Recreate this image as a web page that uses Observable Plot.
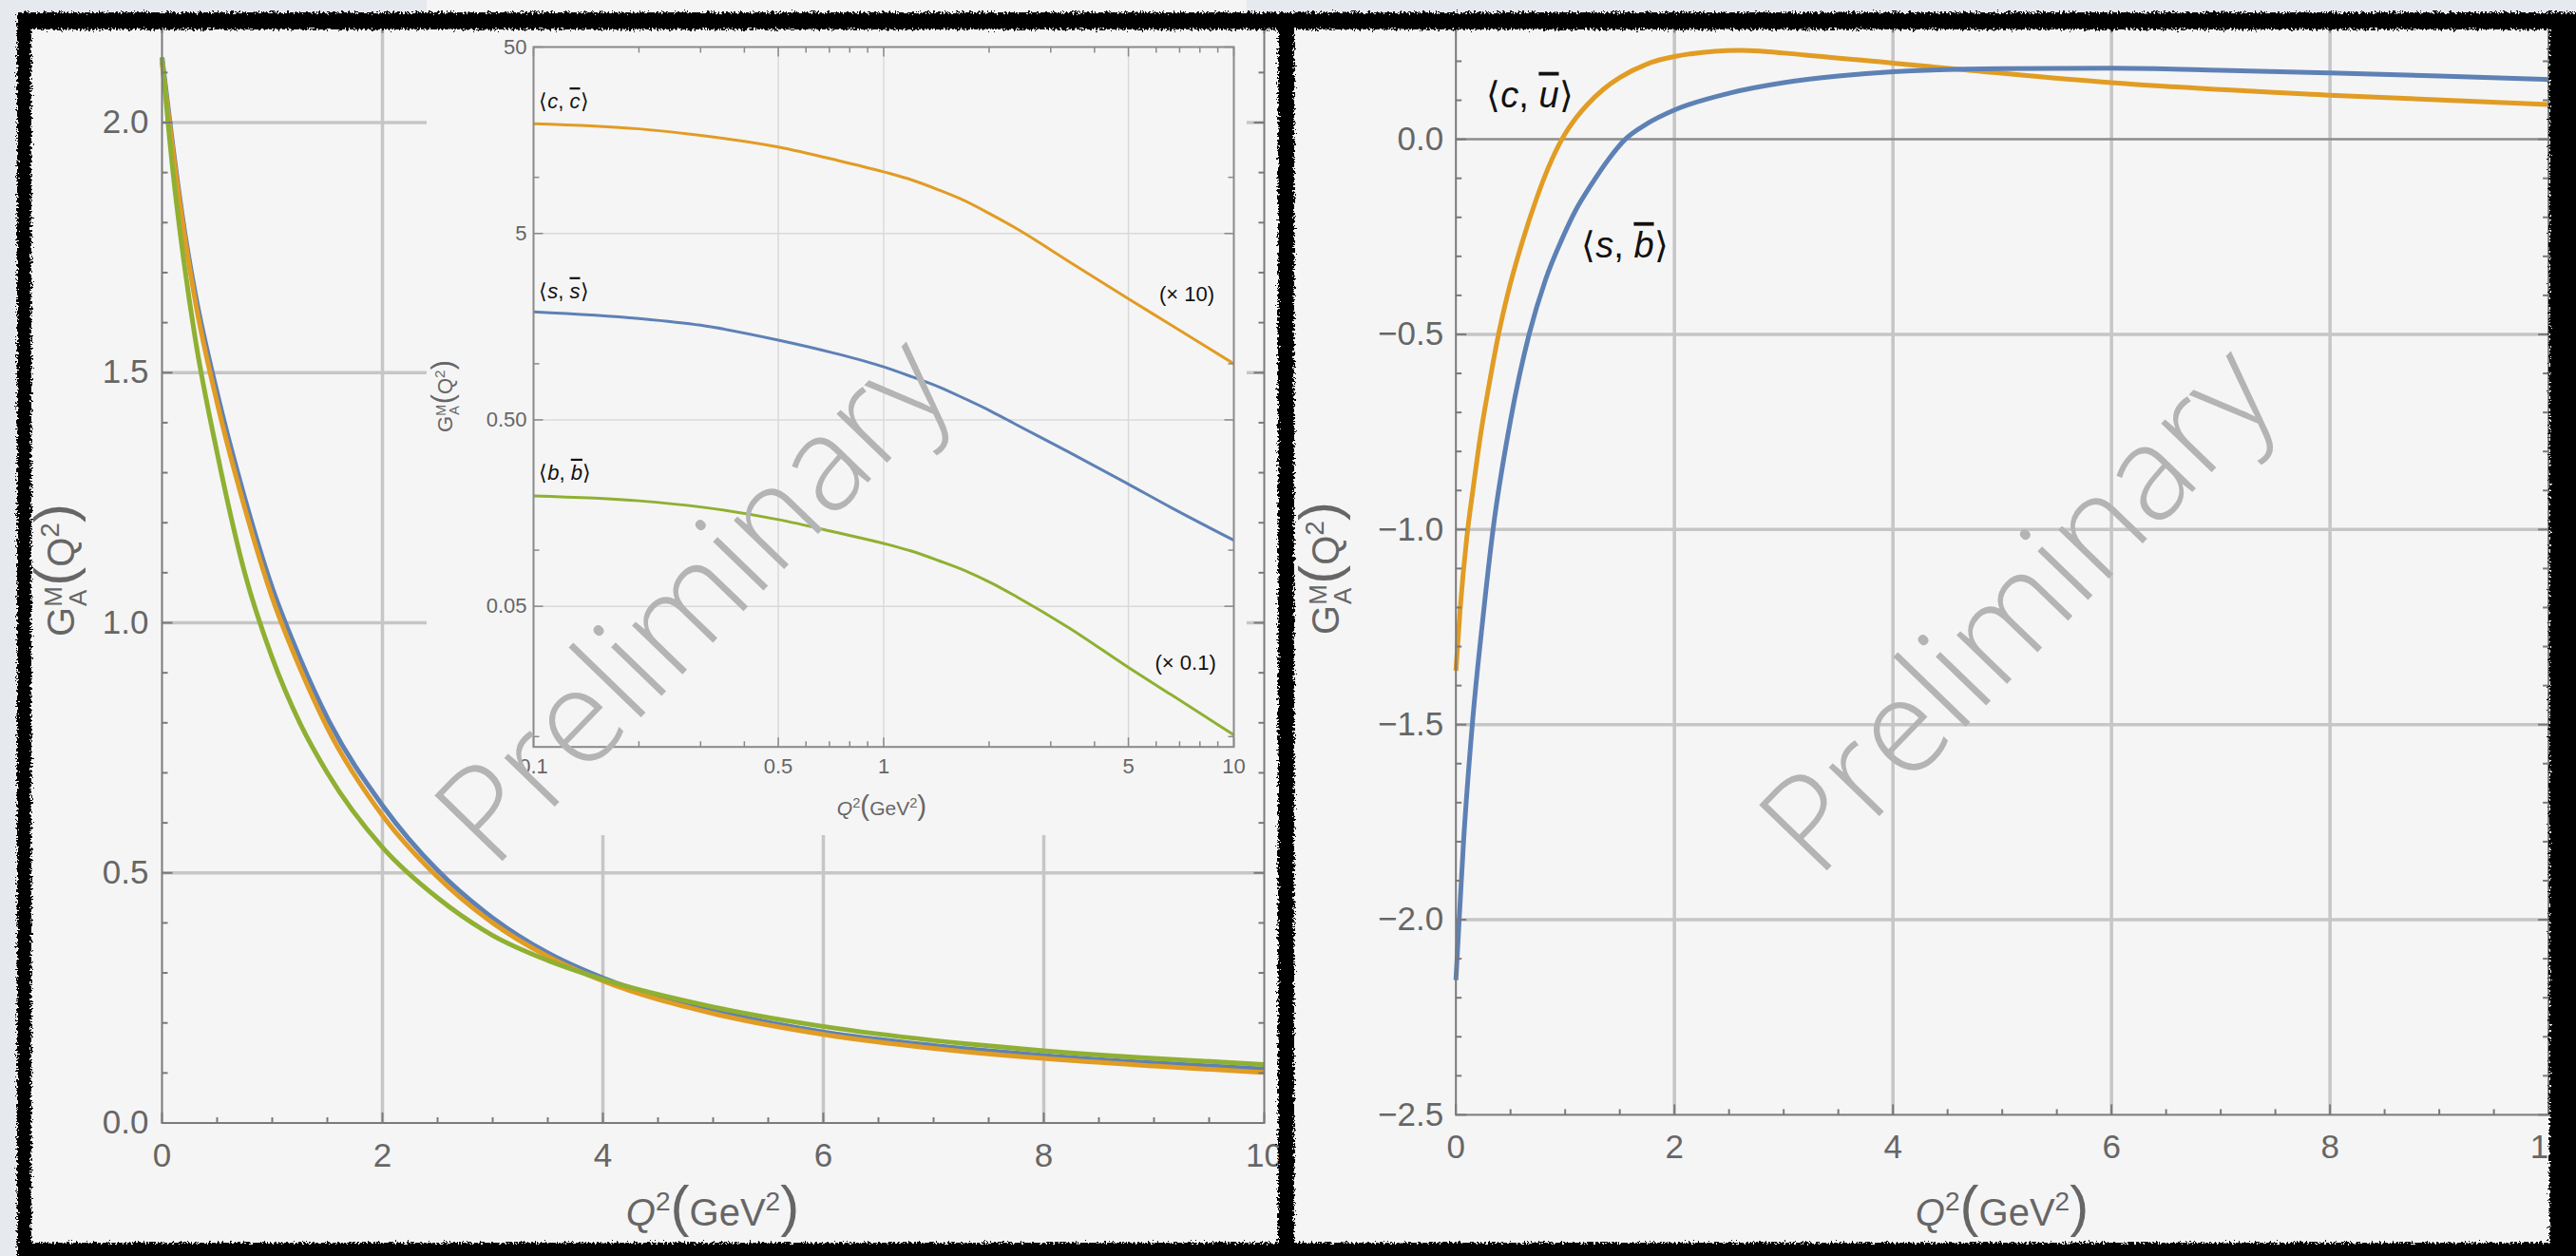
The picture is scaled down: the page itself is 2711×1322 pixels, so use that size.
<!DOCTYPE html>
<html><head><meta charset="utf-8">
<script src="https://cdn.jsdelivr.net/npm/d3@7"></script>
<script src="https://cdn.jsdelivr.net/npm/@observablehq/plot@0.6"></script>
<style>
html,body{margin:0;padding:0;background:#e6e9ed;}
#root{position:relative;width:2711px;height:1322px;overflow:hidden;background:#e6e9ed;}
</style></head><body><div id="root"></div>
<script>
// ---------------- DATA ----------------
// Left main panel: G_A^M(Q^2) for three currents
const mainQ2 = [0,0.1,0.2,0.3,0.5,0.75,1,1.25,1.5,2,2.5,3,3.5,4,5,6,7,8,9,10];
const ssMain = [2.13,1.95,1.79,1.66,1.46,1.25,1.07,0.93,0.81,0.635,0.505,0.41,0.34,0.29,0.225,0.182,0.155,0.135,0.12,0.108];
const ccMain = [2.12,1.94,1.78,1.645,1.44,1.23,1.05,0.91,0.79,0.615,0.492,0.40,0.333,0.284,0.219,0.177,0.149,0.129,0.114,0.101];
const bbMain = [2.13,1.90,1.72,1.57,1.34,1.10,0.93,0.80,0.70,0.551,0.45,0.375,0.325,0.287,0.232,0.193,0.165,0.1445,0.129,0.117];
// Inset (log-log); cc shown x10, bb shown x0.1
const insetQ2 = [0.1,0.2,0.3,0.5,0.73,1,1.2,1.44,1.7,2.03,2.4,3.37,5,6.63,10];
const ccInset = [19.4,18.2,16.8,14.55,12.4,10.7,9.7,8.54,7.5,6.31,5.3,3.55,2.23,1.61,1.0];
const ssInset = [1.90,1.75,1.61,1.34,1.135,0.962,0.853,0.75,0.651,0.555,0.47,0.337,0.226,0.169,0.113];
const bbInset = [0.1954,0.184,0.1705,0.1459,0.1247,0.1087,0.0989,0.0877,0.0779,0.0667,0.0562,0.0385,0.0235,0.01675,0.0102];
// Right panel: transition form factors
const cuQ2 = [0,0.04,0.1,0.16,0.23,0.3,0.39,0.48,0.6,0.74,0.85,0.97,1.1,1.2,1.35,1.5,1.75,2,2.6,3.2,4,4.7,6,8,10];
const cuValues = [-1.362,-1.2,-1.02,-0.89,-0.75,-0.635,-0.5,-0.39,-0.27,-0.15,-0.07,0,0.055,0.088,0.128,0.158,0.193,0.212,0.228,0.216,0.195,0.177,0.145,0.113,0.089];
const sbQ2 = [0,0.03,0.07,0.15,0.25,0.34,0.5,0.67,0.82,0.98,1.1,1.23,1.4,1.55,1.75,2,2.5,3,3.5,4,5,6,7,8,9,10];
const sbValues = [-2.155,-2.0,-1.8,-1.5,-1.22,-1.0,-0.72,-0.5,-0.36,-0.25,-0.18,-0.12,-0.05,0,0.04,0.075,0.118,0.145,0.162,0.173,0.181,0.182,0.177,0.17,0.162,0.153];
// Tick values / labels
const mainXTicks = [0,2,4,6,8,10];
const mainYTicks = [0,0.5,1,1.5,2];
const rightYTicks = [-2.5,-2,-1.5,-1,-0.5,0];
const insetXTicks = [0.1,0.5,1,5,10];
const insetXTickLabels = ["0.1","0.5","1","5","10"];
const insetYTicks = [0.05,0.5,5,50];
const insetYTickLabels = ["0.05","0.50","5","50"];
const insetXMinor = [0.2,0.3,0.4,0.6,0.7,0.8,0.9,2,3,4,6,7,8,9];
const insetYMinor = [0.01,0.1,1,10];
const seriesNames = ["ss","cc","bb"];

// ---------------- STYLE ----------------
const FONT = "'Liberation Sans', Arial, Helvetica, sans-serif";
const BLUE = "#5E81B5", ORANGE = "#E19C24", GREEN = "#8FB032";
const GRID = "#c6c6c6", FRAME = "#7a7a7a", LABEL = "#666666", PANEL = "#f5f5f5";

const root = document.getElementById("root");
function place(el, left, top) {
  el.style.position = "absolute"; el.style.left = left + "px"; el.style.top = top + "px";
  root.appendChild(el);
}
for (const [l, t, w, h] of [[18, 13, 1336, 1320], [1353, 13, 1358, 1320]]) {
  const d = document.createElement("div");
  d.style.cssText = `width:${w}px;height:${h}px;background:${PANEL};`;
  place(d, l, t);
}

const tk = (dx, dy) => ({draw(ctx) { ctx.moveTo(0, 0); ctx.lineTo(dx, dy); }});
function frameTicks(xMaj, xMin, yMaj, yMin, {maj = 11, min = 6, stroke = FRAME, sw = 2} = {}) {
  const o = {stroke, strokeWidth: sw, fill: "none"};
  return [
    Plot.dot(xMaj, {x: d => d, frameAnchor: "bottom", symbol: tk(0, -maj), ...o}),
    Plot.dot(xMin, {x: d => d, frameAnchor: "bottom", symbol: tk(0, -min), ...o}),
    Plot.dot(xMaj, {x: d => d, frameAnchor: "top", symbol: tk(0, maj), ...o}),
    Plot.dot(xMin, {x: d => d, frameAnchor: "top", symbol: tk(0, min), ...o}),
    Plot.dot(yMaj, {y: d => d, frameAnchor: "left", symbol: tk(maj, 0), ...o}),
    Plot.dot(yMin, {y: d => d, frameAnchor: "left", symbol: tk(min, 0), ...o}),
    Plot.dot(yMaj, {y: d => d, frameAnchor: "right", symbol: tk(-maj, 0), ...o}),
    Plot.dot(yMin, {y: d => d, frameAnchor: "right", symbol: tk(-min, 0), ...o})
  ];
}
function richText(parent, x, y, segs, {size = 38, fill = "#111", anchor = "middle", rotate = 0, family = FONT} = {}) {
  const t = parent.append("text")
    .attr("transform", `translate(${x},${y}) rotate(${rotate})`)
    .attr("text-anchor", anchor).attr("font-size", size).attr("fill", fill)
    .attr("font-family", family);
  for (const s of segs) {
    const ts = t.append("tspan").text(s.t);
    if (s.italic) ts.attr("font-style", "italic");
    if (s.scale) ts.attr("font-size", size * s.scale);
    if (s.dy) ts.attr("dy", s.dy);
    if (s.dx) ts.attr("dx", s.dx);
    if (s.over) ts.style("text-decoration", "overline");
    if (s.weight) ts.attr("font-weight", s.weight);
  }
  return t;
}
const minorRange = (a, b, step, skip) => d3.range(a, b + step / 2, step).map(v => +v.toFixed(4)).filter(v => !skip.some(s => Math.abs(s - v) < 1e-6));

// ---------------- LEFT MAIN ----------------
const mainRows = [];
seriesNames.forEach((s, k) => {
  const vals = [ssMain, ccMain, bbMain][k];
  mainQ2.forEach((q, i) => mainRows.push({series: s, q2: q, v: vals[i]}));
});
const mainPlot = Plot.plot({
  width: 1353, height: 1322,
  marginLeft: 170, marginRight: 23, marginTop: 23.2, marginBottom: 140.5,
  style: {background: "transparent", color: LABEL, fontSize: "35px", fontFamily: FONT, overflow: "visible"},
  x: {domain: [0, 10], ticks: mainXTicks, tickFormat: d3.format("d"), tickSize: 0, tickPadding: 21, label: null},
  y: {domain: [0, 2.2], ticks: mainYTicks, tickFormat: d3.format(".1f"), tickSize: 0, tickPadding: 14, label: null},
  color: {domain: seriesNames, range: [BLUE, ORANGE, GREEN]},
  marks: [
    Plot.ruleX([2, 4, 6, 8], {stroke: GRID, strokeWidth: 3.5}),
    Plot.ruleY([0.5, 1, 1.5, 2], {stroke: GRID, strokeWidth: 3.5}),
    Plot.line(mainRows, {x: "q2", y: "v", z: "series", stroke: "series", strokeWidth: 5, curve: "monotone-x", strokeLinecap: "butt"}),
    Plot.frame({stroke: FRAME, strokeWidth: 2}),
    ...frameTicks(mainXTicks, minorRange(0, 10, 0.5, mainXTicks), mainYTicks, minorRange(0, 2.2, 0.1, mainYTicks))
  ]
});
place(mainPlot, 0, 0);

// ---------------- INSET ----------------
const insetRows = [];
seriesNames.forEach((s, k) => {
  const vals = [ssInset, ccInset, bbInset][k];
  insetQ2.forEach((q, i) => insetRows.push({series: s, q2: q, v: vals[i]}));
});
const insetPlot = Plot.plot({
  width: 863, height: 879,
  marginLeft: 112, marginRight: 14, marginTop: 49, marginBottom: 93.3,
  style: {background: PANEL, color: LABEL, fontSize: "22px", fontFamily: FONT, overflow: "visible"},
  x: {type: "log", domain: [0.1, 10], axis: null},
  y: {type: "log", domain: [0.0088, 50], axis: null},
  color: {domain: seriesNames, range: [BLUE, ORANGE, GREEN]},
  marks: [
    Plot.ruleX([0.5, 1, 5], {stroke: "#dadada", strokeWidth: 1.5}),
    Plot.ruleY([0.05, 0.5, 5], {stroke: "#dadada", strokeWidth: 1.5}),
    Plot.line(insetRows, {x: "q2", y: "v", z: "series", stroke: "series", strokeWidth: 3, curve: "monotone-x", strokeLinecap: "butt"}),
    Plot.frame({stroke: "#8a8a8a", strokeWidth: 2}),
    ...frameTicks(insetXTicks, insetXMinor, insetYTicks, insetYMinor, {maj: 10, min: 6, stroke: "#8a8a8a", sw: 1.5}),
    Plot.text(insetXTicks, {x: d => d, text: (d, i) => insetXTickLabels[i], frameAnchor: "bottom", lineAnchor: "top", dy: 12, fill: LABEL, fontSize: 22}),
    Plot.text(insetYTicks, {y: d => d, text: (d, i) => insetYTickLabels[i], frameAnchor: "left", textAnchor: "end", dx: -7, fill: LABEL, fontSize: 22})
  ]
});
place(insetPlot, 449, 0);
{
  const sx = insetPlot.scale("x"), sy = insetPlot.scale("y");
  const g = d3.select(insetPlot);
  const lab = [
    {q: 0.104, v: 25.3, segs: [{t: "⟨"}, {t: "c", italic: 1}, {t: ", "}, {t: "c", italic: 1, over: 1}, {t: "⟩"}]},
    {q: 0.104, v: 2.43, segs: [{t: "⟨"}, {t: "s", italic: 1}, {t: ", "}, {t: "s", italic: 1, over: 1}, {t: "⟩"}]},
    {q: 0.104, v: 0.258, segs: [{t: "⟨"}, {t: "b", italic: 1}, {t: ", "}, {t: "b", italic: 1, over: 1}, {t: "⟩"}]}
  ];
  for (const l of lab) richText(g, sx.apply(l.q), sy.apply(l.v) + 7, l.segs, {size: 22, anchor: "start"});
  richText(g, sx.apply(7.36), sy.apply(2.34) + 7, [{t: "(× 10)"}], {size: 22});
  richText(g, sx.apply(7.3), sy.apply(0.0247) + 7, [{t: "(× 0.1)"}], {size: 22});
}

// ---------------- RIGHT ----------------
const rightRows = [];
cuQ2.forEach((q, i) => rightRows.push({series: "cu", q2: q, v: cuValues[i]}));
sbQ2.forEach((q, i) => rightRows.push({series: "sb", q2: q, v: sbValues[i]}));
const rightPlot = Plot.plot({
  width: 1358, height: 1322,
  marginLeft: 178.7, marginRight: 29.4, marginTop: 22.9, marginBottom: 149.1,
  style: {background: "transparent", color: LABEL, fontSize: "35px", fontFamily: FONT, overflow: "visible"},
  x: {domain: [0, 10], ticks: mainXTicks, tickFormat: d3.format("d"), tickSize: 0, tickPadding: 21, label: null},
  y: {domain: [-2.5, 0.3], ticks: rightYTicks, tickFormat: d3.format(".1f"), tickSize: 0, tickPadding: 13, label: null},
  color: {domain: ["cu", "sb"], range: [ORANGE, BLUE]},
  marks: [
    Plot.ruleX([2, 4, 6, 8], {stroke: GRID, strokeWidth: 3.5}),
    Plot.ruleY([-2, -1.5, -1, -0.5], {stroke: GRID, strokeWidth: 3.5}),
    Plot.ruleY([0], {stroke: "#8c8c8c", strokeWidth: 2.5}),
    Plot.line(rightRows, {x: "q2", y: "v", z: "series", stroke: "series", strokeWidth: 5, curve: "monotone-x", strokeLinecap: "butt"}),
    Plot.frame({stroke: FRAME, strokeWidth: 2}),
    ...frameTicks(mainXTicks, minorRange(0, 10, 0.5, mainXTicks), rightYTicks, minorRange(-2.5, 0.3, 0.1, rightYTicks))
  ]
});
place(rightPlot, 1353, 0);
{
  const sx = rightPlot.scale("x"), sy = rightPlot.scale("y");
  const g = d3.select(rightPlot);
  richText(g, sx.apply(0.68), sy.apply(0.113) + 13, [{t: "⟨"}, {t: "c", italic: 1}, {t: ", "}, {t: "u", italic: 1, over: 1}, {t: "⟩"}], {size: 38});
  richText(g, sx.apply(1.55), sy.apply(-0.272) + 13, [{t: "⟨"}, {t: "s", italic: 1}, {t: ", "}, {t: "b", italic: 1, over: 1}, {t: "⟩"}], {size: 38});
}

// ---------------- OVERLAY: axis labels, watermark, borders ----------------
const ov = d3.create("svg").attr("width", 2711).attr("height", 1322)
  .style("position", "absolute").style("left", "0px").style("top", "0px").style("pointer-events", "none");
root.appendChild(ov.node());
const defs = ov.append("defs");
const f = defs.append("filter").attr("id", "rough").attr("x", "-2%").attr("y", "-2%").attr("width", "104%").attr("height", "104%");
f.append("feTurbulence").attr("type", "fractalNoise").attr("baseFrequency", "0.45").attr("numOctaves", 3).attr("seed", 7).attr("result", "n");
f.append("feDisplacementMap").attr("in", "SourceGraphic").attr("in2", "n").attr("scale", 9).attr("xChannelSelector", "R").attr("yChannelSelector", "G");

const xLab = [{t: "Q", italic: 1}, {t: "2", scale: 0.7, dy: -16}, {t: "(", scale: 1.5, dy: 16, weight: 300}, {t: "GeV"}, {t: "2", scale: 0.7, dy: -16}, {t: ")", scale: 1.5, dy: 16, weight: 300}];
richText(ov, 750, 1290, xLab, {size: 40, fill: LABEL});
richText(ov, 2107, 1290, xLab, {size: 40, fill: LABEL});
const yLab = [{t: "G"}, {t: "M", scale: 0.65, dy: -13}, {t: "A", scale: 0.65, dx: -21, dy: 26}, {t: "(", scale: 1.5, dx: 4, dy: -13, weight: 300}, {t: "Q"}, {t: "2", scale: 0.7, dy: -16}, {t: ")", scale: 1.5, dy: 16, weight: 300}];
richText(ov, 78, 600, yLab, {size: 40, fill: LABEL, rotate: -90});
richText(ov, 1409, 598, yLab, {size: 40, fill: LABEL, rotate: -90});
richText(ov, 928, 858, [{t: "Q", italic: 1}, {t: "2", scale: 0.7, dy: -8}, {t: "(", scale: 1.4, dy: 8, weight: 300}, {t: "GeV"}, {t: "2", scale: 0.7, dy: -8}, {t: ")", scale: 1.4, dy: 8, weight: 300}], {size: 21, fill: LABEL});
richText(ov, 476, 417, [{t: "G"}, {t: "M", scale: 0.65, dy: -7}, {t: "A", scale: 0.65, dx: -11, dy: 14}, {t: "(", scale: 1.4, dx: 2, dy: -7, weight: 300}, {t: "Q"}, {t: "2", scale: 0.7, dy: -8}, {t: ")", scale: 1.4, dy: 8, weight: 300}], {size: 22, fill: LABEL, rotate: -90});

// watermarks
for (const [x, y] of [[724, 626], [2118, 636]]) {
  ov.append("text").text("Preliminary")
    .attr("transform", `translate(${x},${y}) rotate(-46)`)
    .attr("text-anchor", "middle").attr("dominant-baseline", "central")
    .attr("font-family", "'Open Sans', 'Noto Sans', sans-serif").attr("font-weight", 300)
    .attr("font-size", 139).attr("fill", "#b4b4b4");
}
// rough black borders
const borders = [
  {o: [18, 13, 1354, 1340], i: [33, 31, 1345, 1308]},
  {o: [1353, 13, 2720, 1340], i: [1362, 31, 2683, 1308]}
];
const rectPath = ([x0, y0, x1, y1]) => `M${x0},${y0}H${x1}V${y1}H${x0}Z`;
for (const b of borders) {
  ov.append("path").attr("d", rectPath(b.o) + rectPath(b.i)).attr("fill-rule", "evenodd")
    .attr("fill", "#000").attr("filter", "url(#rough)");
}
</script></body></html>
